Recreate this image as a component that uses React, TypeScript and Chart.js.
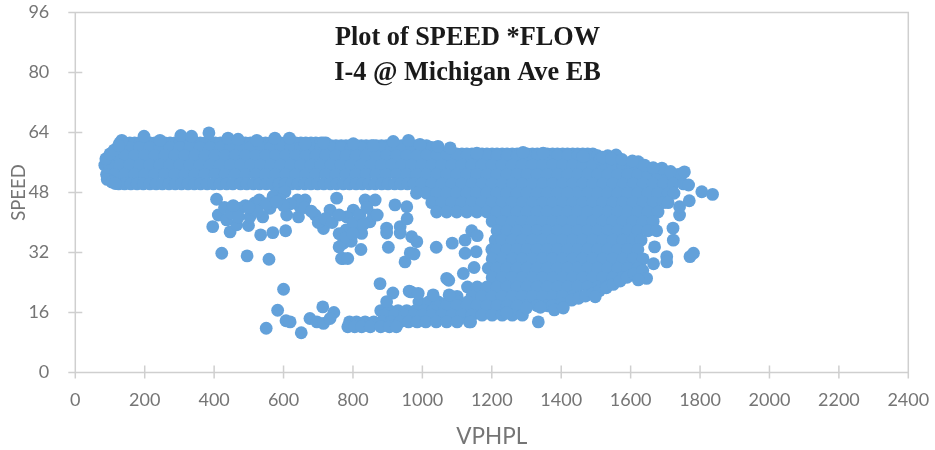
import React, { useEffect, useRef } from "react";
import { Chart, registerables } from "chart.js";

Chart.register(...registerables);

const titleLines = ["Plot of SPEED *FLOW", "I-4 @ Michigan Ave EB"];
const xTickLabels = [0, 200, 400, 600, 800, 1000, 1200, 1400, 1600, 1800, 2000, 2200, 2400];
const yTickLabels = [0, 16, 32, 48, 64, 80, 96];

// Dense mass, read as rows: speed level -> flows covered at that speed
const flowAt612 = [128,142,157,171,186,200,215,229,244,258,273,287,302,316,331,345,360,374,389,403,418,432,447,461,476,490,505,519,534,548,563,577,592,606,621,635,650,664,679,693,708,722];
const flowAt605 = [737,751,766,780,795,809,824,838,853,867,882,896,911,925,940,954,969,983,998,1012];
const flowAt60 = [122,128,157,186,215,244,273,302,331,360,389,418,447,476,505,534,563,592,621,650,679,708,737,766,795,824,853,882,911,940,969,998,1027,1041];
const flowAt583 = [1056,1070,1085,1099,1114,1128,1143,1157,1172,1186,1201,1215,1230,1244,1259,1273,1288,1302,1317,1331,1346,1360,1375,1389,1404,1418,1433,1447,1462,1476,1491];
const flowAt578 = [113,142,171,200,229,258,287,316,345,374,403,432,461,490,519,548,577,606,635,664,693,722,751,780,809,838,867,896,925,954,983,1012,1041,1070,1099,1128,1157,1186,1215,1244,1273,1302,1331,1360,1389,1418,1447,1476,1505,1534];
const flowAt553 = [85,99,128,157,186,215,244,273,302,331,360,389,418,447,476,505,534,563,592,621,650,679,708,737,766,795,824,853,882,911,940,969,998,1027,1056,1085,1114,1143,1172,1201,1230,1259,1288,1317,1346,1375,1404,1433,1462,1491,1520,1549,1578,1607,1636];
const flowAt528 = [90,113,142,171,200,229,258,287,316,345,374,403,432,461,490,519,548,577,606,635,664,693,722,751,780,809,838,867,896,925,954,983,1012,1041,1070,1099,1128,1157,1186,1215,1244,1273,1302,1331,1360,1389,1418,1447,1476,1505,1534,1563,1592,1621,1650,1679,1708,1737];
const flowAt503 = [125,142,160,178,196,215,233,251,270,288,306,325,343,361,380,398,417,436,454,476,494,513,531,550,568,587,605,624,642,661,679,698,716,735,753,772,790,809,827,846,864,883,901,920,938,957,975,998,1027,1056,1085,1114,1143,1172,1201,1230,1259,1288,1317,1346,1375,1404,1433,1462,1491,1520,1549,1578,1607,1636,1665,1694,1723,1752];
const flowAt478 = [983,1012,1041,1070,1099,1128,1157,1186,1215,1244,1273,1302,1331,1360,1389,1418,1447,1476,1505,1534,1563,1592,1621,1650,1679,1708,1725];
const flowAt453 = [1027,1056,1085,1114,1143,1172,1201,1230,1259,1288,1317,1346,1375,1404,1433,1462,1491,1520,1549,1578,1607,1636,1665,1694,1708];
const flowAt428 = [1041,1070,1099,1128,1157,1186,1215,1244,1273,1302,1331,1360,1389,1418,1447,1476,1505,1534,1563,1592,1621,1650,1679];
const flowAt403 = [1201,1230,1259,1288,1317,1346,1375,1404,1433,1462,1491,1520,1549,1578,1607,1636,1665];
const flowAt378 = [1215,1244,1273,1302,1331,1360,1389,1418,1447,1476,1505,1534,1563,1592,1621,1650,1675];
const flowAt353 = [1210,1230,1259,1288,1317,1346,1375,1404,1433,1462,1491,1520,1549,1578,1607,1630];
const flowAt328 = [1200,1215,1244,1273,1302,1331,1360,1389,1418,1447,1476,1505,1534,1563,1592,1621];
const flowAt303 = [1201,1230,1259,1288,1317,1346,1375,1404,1433,1462,1491,1520,1549,1578,1607,1636];
const flowAt278 = [1190,1215,1244,1273,1302,1331,1360,1389,1418,1447,1476,1505,1534,1563,1592,1621];
const flowAt253 = [1201,1230,1259,1288,1317,1346,1375,1404,1433,1462,1491,1520,1549,1578];
const flowAt228 = [1130,1158,1186,1215,1244,1273,1302,1331,1360,1389,1418,1447,1476,1505,1528];
const flowAt203 = [1100,1143,1172,1201,1230,1259,1288,1317,1346,1375,1404,1433,1455];
const flowAt188 = [990,1018,1046,1074,1102,1130];
const flowAt178 = [1041,1070,1099,1128,1157,1186,1215,1244,1273,1302,1331,1360,1389];
const flowAt165 = [880,905,930,955,980,1005,1030];
const flowAt153 = [890,920,950,975,1000,1027,1056,1085,1114,1143,1172,1201,1230,1259,1288];
const flowAt135 = [790,810,835,860,885,910,935,960,985,1010,1040,1070,1100,1135];
const flowAt122 = [785,805,825,850,880,905,925];

const denseRows: [number, number[]][] = [
  [61.2, flowAt612], [60.5, flowAt605], [60, flowAt60], [58.3, flowAt583], [57.8, flowAt578], [55.3, flowAt553], [52.8, flowAt528], [50.3, flowAt503],
  [47.8, flowAt478], [45.3, flowAt453], [42.8, flowAt428], [40.3, flowAt403], [37.8, flowAt378],
  [35.3, flowAt353], [32.8, flowAt328], [30.3, flowAt303], [27.8, flowAt278], [25.3, flowAt253],
  [22.8, flowAt228], [20.3, flowAt203], [18.8, flowAt188], [17.8, flowAt178], [16.5, flowAt165], [15.3, flowAt153], [13.5, flowAt135], [12.2, flowAt122],
];

// Points on the upper crest and left end of the cloud
const crestFlow = [134,198,244,304,335,385,440,469,523,575,617,662,715,801,859,916,960,993,1045,1080,1157,1290,1348,1463,1512,1558,1622,1690,1755,1767,88,100,112,125,92,105,115,1520,1545,1575,1605,1640,1665,1715];
const crestSpeed = [61.9,63,61.9,63.2,63,63.9,62.5,62.2,61.9,62.5,62.5,61,61.2,61,60.5,61.6,61.9,60.8,60.3,59.9,58.5,58.7,58.5,57.7,57,58,56.2,54.5,53.5,50,57,58.3,59.3,60.5,51.5,50.8,50.4,57.4,57,56.8,56.4,55.3,54.6,53.6];

// Lower right edge of the cloud
const lowerEdgeFlow = [1300,1340,1375,1400,1430,1450,1470,1490,1510,1530,1550,1570,1590,1610,1635];
const lowerEdgeSpeed = [17.2,17.4,17.8,18.3,19.3,19.8,20.4,21,21.8,22.6,23.5,24.4,25.4,26.3,27.2];

// Separate points around the edges of the cloud
const edgeFlow = [396,422,495,558,446,465,499,534,569,606,600,583,550,607,619,651,676,713,745,696,715,734,878,915,897,962,902,823,772,767,785,950,965,897,897,936,936,772,760,795,407,412,436,475,503,517,561,580,604,609,643,647,662,691,715,734,753,801,782,811,825,849,859,835,864,921,955,956,969,984,976,1040,1086,1123,1142,1158,1155,1123,1149,1118,1070,1076,967,988,1031,1077,1334,1805,1836,1771,1781,1723,1669,1722,1741,1741,1769,1704,1704,1666,1646,1622,1498,1380,1406,1139,1243];
const edgeSpeed = [38.9,31.8,31.1,30.2,37.5,39.4,39.2,36.7,37.3,37.8,22.2,16.6,11.8,13.8,13.5,10.6,14.4,17.5,16,13.5,13.1,14.4,23.7,21.2,18.9,21.7,33.4,32.8,30.4,30.4,30.4,29.5,31.9,38.5,37.2,38.9,37.2,34.5,33.5,35,46.2,42,40.7,43.8,41.5,45.2,43.8,47.8,48.2,42,41.5,44.2,46,42,38.4,43.3,46.5,43.3,41.5,39.8,37.1,40.2,42,46,46,44.7,44.2,41,36.2,34.9,31.6,33.4,34.5,35.3,37.8,36.5,32.2,31.8,28,26.4,25.1,24.6,21.5,21.1,20.7,20.7,13.5,48.2,47.5,30.9,31.8,35.3,33.5,38.5,42,44.2,45.8,30.9,29.5,29,25.1,24.7,20.2,16.7,17.2,13.5,15.9];

// Clusters hanging under the band
const clusterFlow = [430,450,470,490,510,530,550,570,590,540,640,660,680,700,720,740,760,780,800,820,760,780,800,840,870,830,620,600,580,525,500,455];
const clusterSpeed = [44,42.5,41.5,44.5,43.5,46,45,47,46,41.5,46,44,43,40,41,40,42,38,40,42,37,36,37,44,42,39.5,45,44.5,45.5,43,44,44.5];

const dataPoints = [
  ...denseRows.flatMap(([speed, flows]) => flows.map((flow) => ({ x: flow, y: speed }))),
  ...crestFlow.map((flow, i) => ({ x: flow, y: crestSpeed[i] })),
  ...lowerEdgeFlow.map((flow, i) => ({ x: flow, y: lowerEdgeSpeed[i] })),
  ...edgeFlow.map((flow, i) => ({ x: flow, y: edgeSpeed[i] })),
  ...clusterFlow.map((flow, i) => ({ x: flow, y: clusterSpeed[i] })),
];

const axisColor = "#cfcfcf";
const tickFontColor = "#757575";

const framePlugin = {
  id: "frame",
  beforeDatasetsDraw(chart: any) {
    const { ctx, chartArea: a, scales } = chart;
    ctx.save();
    ctx.strokeStyle = axisColor;
    ctx.lineWidth = 1.5;
    ctx.beginPath();
    ctx.rect(a.left, a.top, a.right - a.left, a.bottom - a.top);
    yTickLabels.forEach((v) => {
      const p = scales.y.getPixelForValue(v);
      ctx.moveTo(a.left - 7, p);
      ctx.lineTo(a.left + 7, p);
    });
    xTickLabels.forEach((v) => {
      const p = scales.x.getPixelForValue(v);
      ctx.moveTo(p, a.bottom - 7);
      ctx.lineTo(p, a.bottom + 6);
    });
    ctx.stroke();
    ctx.restore();
  },
  afterDraw(chart: any) {
    const { ctx } = chart;
    ctx.save();
    ctx.fillStyle = "#1a1a1a";
    ctx.font = "bold 26.3px 'Liberation Serif'";
    ctx.textAlign = "center";
    ctx.textBaseline = "alphabetic";
    ctx.fillText(titleLines[0], 467.5, 45);
    ctx.fillText(titleLines[1], 467.5, 80);
    ctx.restore();
  },
};

export default function App() {
  const ref = useRef<HTMLCanvasElement>(null);
  useEffect(() => {
    const chart = new Chart(ref.current!, {
      type: "scatter",
      data: {
        datasets: [
          {
            label: "SPEED",
            data: dataPoints,
            backgroundColor: "#63A1DA",
            borderWidth: 0,
            pointRadius: 6.4,
          },
        ],
      },
      options: {
        responsive: false,
        animation: false,
        layout: { padding: { top: 12.5, right: 26.7, bottom: 0, left: 0 } },
        plugins: { legend: { display: false }, tooltip: { enabled: false }, title: { display: false } },
        scales: {
          x: {
            type: "linear",
            min: 0,
            max: 2400,
            afterBuildTicks(scale: any) {
              scale.ticks = xTickLabels.map((value) => ({ value }));
            },
            afterFit(scale: any) {
              scale.height = 77.5;
              scale.paddingLeft = 0;
              scale.paddingRight = 0;
            },
            grid: { display: false },
            border: { display: false },
            ticks: { color: tickFontColor, font: { family: "Lato", size: 18 }, padding: 9, maxRotation: 0, callback: (v: any) => String(v) },
            title: { display: true, text: "VPHPL", color: tickFontColor, font: { family: "Lato", size: 22.5 }, padding: { top: 6, bottom: 0 } },
          },
          y: {
            type: "linear",
            min: 0,
            max: 96,
            afterBuildTicks(scale: any) {
              scale.ticks = yTickLabels.map((value) => ({ value }));
            },
            afterFit(scale: any) {
              scale.width = 75.3;
              scale.paddingTop = 0;
              scale.paddingBottom = 0;
            },
            grid: { display: false },
            border: { display: false },
            ticks: { color: tickFontColor, font: { family: "Lato", size: 18 }, padding: 18 },
            title: { display: true, text: "SPEED", color: tickFontColor, font: { family: "Lato", size: 18.5 }, padding: { top: 8, bottom: 0 } },
          },
        },
      },
      plugins: [framePlugin],
    });
    return () => chart.destroy();
  }, []);
  return (
    <div style={{ position: "absolute", left: 0, top: 0, width: 935, height: 450, background: "#fff" }}>
      <canvas ref={ref} width={935} height={450} style={{ display: "block" }} />
    </div>
  );
}
